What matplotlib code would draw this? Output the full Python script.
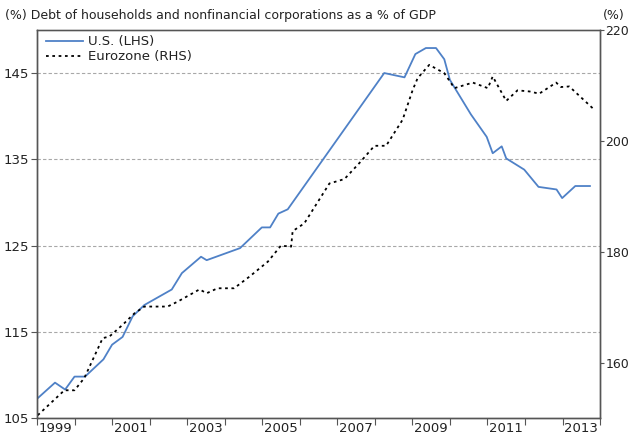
import matplotlib.pyplot as plt
import matplotlib.ticker as mticker

# U.S. debt (% of GDP, LHS)
us_x = [1999.02, 1999.48, 1999.75, 2000.0, 2000.28, 2000.77, 2001.0, 2001.28, 2001.55,
        2001.86, 2002.59, 2002.86, 2003.37, 2003.52, 2004.41, 2004.99, 2005.21, 2005.43,
        2005.68, 2008.25, 2008.79, 2009.08, 2009.36, 2009.63, 2009.85, 2010.0, 2010.56,
        2010.98, 2011.14, 2011.38, 2011.5, 2011.98, 2012.36, 2012.84, 2012.99, 2013.34, 2013.73]
us_y = [107.3, 109.1, 108.3, 109.8, 109.8, 111.8, 113.5, 114.4, 116.8,
        118.1, 119.9, 121.8, 123.7, 123.3, 124.7, 127.1, 127.1, 128.7,
        129.2, 145.0, 144.5, 147.2, 147.9, 147.9, 146.6, 144.2, 140.2,
        137.6, 135.7, 136.5, 135.1, 133.8, 131.8, 131.5, 130.5, 131.9, 131.9]

# Eurozone debt (% of GDP, RHS)
ez_x = [1999.02, 1999.73, 2000.0, 2000.26, 2000.75, 2000.93, 2001.28, 2001.6, 2001.86,
        2002.48, 2002.75, 2003.33, 2003.52, 2003.81, 2004.25, 2004.66, 2005.15, 2005.5,
        2005.77, 2005.81, 2006.12, 2006.79, 2007.19, 2007.59, 2007.99, 2008.3, 2008.74,
        2009.01, 2009.14, 2009.45, 2009.85, 2010.12, 2010.61, 2011.01, 2011.14, 2011.5,
        2011.8, 2012.12, 2012.38, 2012.83, 2012.96, 2013.18, 2013.8]
ez_y = [150.5, 155.0, 155.0, 157.2, 164.4, 164.7, 166.8, 168.9, 170.1,
        170.1, 171.0, 173.2, 172.5, 173.4, 173.4, 175.5, 178.2, 181.1,
        180.9, 183.7, 185.1, 192.3, 193.1, 196.0, 199.1, 199.1, 203.8,
        209.2, 211.3, 213.7, 212.2, 209.5, 210.5, 209.5, 211.6, 207.2,
        209.1, 208.9, 208.5, 210.5, 209.7, 209.8, 205.9]

year_labels = ['1999', '2001', '2003', '2005', '2007', '2009', '2011', '2013']

plt.rcParams['font.family'] = 'DejaVu Sans'
plt.rcParams['font.size'] = 9
spine_col = '#555555'
text_col = '#222222'

fig = plt.figure(figsize=(6.29, 4.40), dpi=100)
ax = fig.add_axes([0.0588, 0.05, 0.8952, 0.882])
ax2 = ax.twinx()

ax.plot(us_x, us_y, color='#4f81c7', lw=1.3, label='U.S. (LHS)')
ax2.plot(ez_x, ez_y, color='black', lw=1.3, ls=(0, (1.5, 2)), label='Eurozone (RHS)')

ax.set_xlim(1999, 2014)
ax.set_ylim(105, 150)
ax2.set_ylim(150, 220)

ax.set_yticks([105, 115, 125, 135, 145])
ax2.set_yticks([160, 180, 200, 220])
for v in [115, 125, 135, 145]:
    ax.axhline(v, color='#a8a8a8', lw=0.8, ls=(0, (3, 2)), zorder=0)

ax.xaxis.set_major_locator(mticker.FixedLocator(range(1999, 2015)))
ax.xaxis.set_major_formatter(mticker.NullFormatter())
ax.xaxis.set_minor_locator(mticker.FixedLocator([int(y) + 0.5 for y in year_labels]))
ax.xaxis.set_minor_formatter(mticker.FixedFormatter(year_labels))
ax.tick_params(axis='x', which='major', length=5, color=spine_col)
ax.tick_params(axis='x', which='minor', length=0, pad=3, labelcolor=text_col, labelsize=9.5)
ax.tick_params(axis='y', length=4, color=spine_col, labelcolor=text_col, labelsize=9.5, pad=2)
ax2.tick_params(axis='y', length=3, color=spine_col, labelcolor=text_col, labelsize=9, pad=1)

for a in (ax, ax2):
    for s in a.spines.values():
        s.set_color(spine_col)
        s.set_linewidth(1.0)
ax.spines['top'].set_color('#888888')

h1, l1 = ax.get_legend_handles_labels()
h2, l2 = ax2.get_legend_handles_labels()
ax2.legend(h1 + h2, l1 + l2, loc='upper left', bbox_to_anchor=(0.0, 1.01), frameon=False,
           handlelength=2.8, handletextpad=0.4, labelspacing=0.15, fontsize=9.5,
           labelcolor=text_col, borderaxespad=0.3)

fig.text(0.008, 0.965, '(%) Debt of households and nonfinancial corporations as a % of GDP',
         fontsize=9, color=text_col, va='center')
fig.text(0.958, 0.965, '(%)', fontsize=9, color=text_col, va='center')

fig.savefig('out.png', dpi=100)
